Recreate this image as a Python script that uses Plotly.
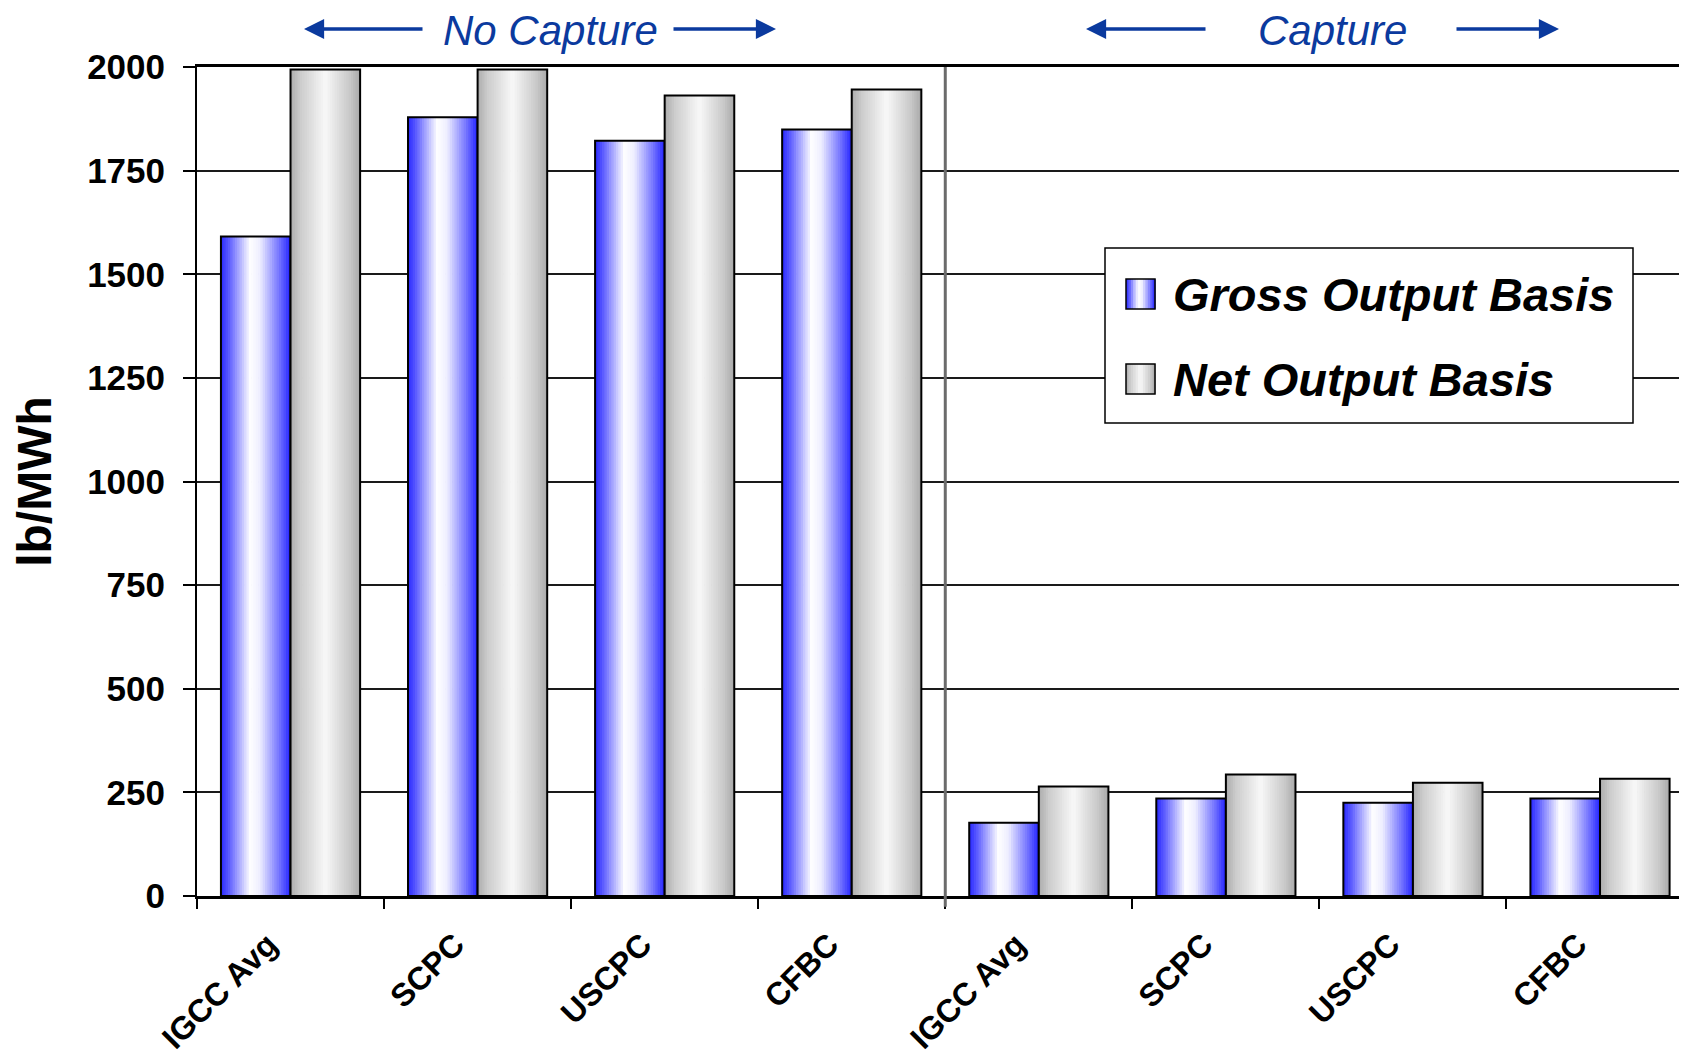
import plotly.graph_objects as go

# ---------------- data ----------------
groups = ["No Capture", "Capture"]
plants = ["IGCC Avg", "SCPC", "USCPC", "CFBC"]
categories = plants + plants
gross_output = [1591, 1879, 1822, 1849, 177, 235, 225, 235]
net_output = [1994, 1994, 1931, 1946, 264, 293, 273, 283]
series_names = ["Gross Output Basis", "Net Output Basis"]
y_ticks = [0, 250, 500, 750, 1000, 1250, 1500, 1750, 2000]
y_title = "lb/MWh"

# ---------------- layout helpers ----------------
OFF = 8  # page body margin
W, H = 1687 - OFF, 1057 - OFF
L, R, T, B = 197 - OFF, 0, 67 - OFF, 161
PW, PH = W - L - R, H - T - B


def px2x(px):  # px in reference-image pixels
    return (px - OFF - L) / PW


def py2y(py):
    return (H - B - (py - OFF)) / PH


FONT = "Liberation Sans, Arial, sans-serif"
BLUE_TXT = "#0b3a9e"

blue_stops = [(0.0, (40, 40, 255)), (0.12, (95, 95, 255)), (0.42, (255, 255, 255)),
              (0.56, (238, 238, 255)), (0.85, (110, 110, 255)), (1.0, (35, 35, 255))]
gray_stops = [(0.0, (172, 172, 172)), (0.15, (205, 205, 205)), (0.5, (248, 248, 248)),
              (0.85, (200, 200, 200)), (1.0, (168, 168, 168))]


def interp(stops, t):
    for (t0, c0), (t1, c1) in zip(stops[:-1], stops[1:]):
        if t0 <= t <= t1:
            f = (t - t0) / (t1 - t0) if t1 > t0 else 0
            c = [round(a + (b - a) * f) for a, b in zip(c0, c1)]
            return "rgb({},{},{})".format(*c)
    c = stops[-1][1]
    return "rgb({},{},{})".format(*c)


fig = go.Figure()
xs = list(range(len(categories)))
BAR_W = 0.372
N = 30

for s_idx, (vals, stops, name) in enumerate(
        [(gross_output, blue_stops, series_names[0]), (net_output, gray_stops, series_names[1])]):
    base = -BAR_W if s_idx == 0 else 0.0
    sw = BAR_W / N
    for k in range(N):
        t = (k + 0.5) / N
        fig.add_bar(x=xs, y=vals, width=sw * (1.35 if k < N - 1 else 1.0), offset=base + k * sw,
                    marker=dict(color=interp(stops, t), line=dict(width=0)),
                    showlegend=False, hoverinfo="skip")
    fig.add_bar(x=xs, y=vals, width=BAR_W, offset=base, name=name,
                marker=dict(color="rgba(0,0,0,0)", line=dict(color="black", width=2)),
                showlegend=False, customdata=categories,
                hovertemplate="%{customdata}: %{y}<extra>" + name + "</extra>")

shapes = []
# separator between No Capture / Capture
shapes.append(dict(type="line", xref="x", yref="paper", x0=3.5, x1=3.5, y0=-0.013, y1=1,
                   line=dict(color="#6b6b6b", width=3), layer="above"))

# custom legend box
lx0, ly0, lx1, ly1 = 1105, 248, 1633, 423
shapes.append(dict(type="rect", xref="paper", yref="paper", x0=px2x(lx0), x1=px2x(lx1),
                   y0=py2y(ly1), y1=py2y(ly0), fillcolor="white",
                   line=dict(color="black", width=1.5), layer="above"))
annotations = []
for name, stops, cy in [(series_names[0], blue_stops, 294), (series_names[1], gray_stops, 379)]:
    sx0, sx1 = 1126, 1155
    sy0, sy1 = cy - 15, cy + 15
    M = 12
    for k in range(M):
        a = sx0 + (sx1 - sx0) * k / M
        b = sx0 + (sx1 - sx0) * (k + 1) / M
        shapes.append(dict(type="rect", xref="paper", yref="paper", x0=px2x(a), x1=px2x(b + 0.6),
                           y0=py2y(sy1), y1=py2y(sy0), fillcolor=interp(stops, (k + 0.5) / M),
                           line=dict(width=0), layer="above"))
    shapes.append(dict(type="rect", xref="paper", yref="paper", x0=px2x(sx0), x1=px2x(sx1),
                       y0=py2y(sy1), y1=py2y(sy0), fillcolor="rgba(0,0,0,0)",
                       line=dict(color="black", width=1.5), layer="above"))
    annotations.append(dict(text=name, xref="paper", yref="paper", x=px2x(1171), y=py2y(cy),
                            xanchor="left", yanchor="middle", showarrow=False,
                            font=dict(family=FONT, size=47, color="black", weight="bold",
                                      style="italic")))

# group headers with arrows
for label, cx, arrows in [
        (groups[0], 550, [(424, 304), (672, 776)]),
        (groups[1], 1332, [(1207, 1086), (1455, 1559)])]:
    annotations.append(dict(text=label, xref="paper", yref="paper", x=px2x(cx), y=py2y(31),
                            xanchor="center", yanchor="middle", showarrow=False,
                            font=dict(family=FONT, size=42, color=BLUE_TXT, style="italic")))
    for tail, tip in arrows:
        annotations.append(dict(text="", xref="paper", yref="paper", x=px2x(tip), y=py2y(29),
                                ax=tail - tip, ay=0, axref="pixel", ayref="pixel",
                                showarrow=True, arrowhead=2, arrowsize=1.15, arrowwidth=3.5,
                                arrowcolor=BLUE_TXT, standoff=0, startstandoff=0))

fig.update_layout(
    width=W, height=H,
    margin=dict(l=L, r=R, t=T, b=B, pad=0),
    paper_bgcolor="white", plot_bgcolor="white",
    barmode="overlay",
    showlegend=False,
    shapes=shapes,
    annotations=annotations,
    xaxis=dict(
        range=[-0.5, 7.465], tickmode="array", tickvals=[i - 0.12 for i in xs],
        ticktext=categories,
        tickangle=-45, ticks="", showgrid=False, zeroline=False,
        showline=True, linecolor="black", linewidth=3, mirror=True,
        tickfont=dict(family=FONT, size=32, color="black", weight="bold"),
        ticklabelstandoff=14, automargin=False,
        minor=dict(tickmode="linear", tick0=-0.5, dtick=1, ticks="outside", ticklen=10,
                   tickwidth=2, tickcolor="black", showgrid=False),
    ),
    yaxis=dict(
        range=[0, 2000], tickmode="array", tickvals=y_ticks,
        ticks="outside", ticklen=12, tickwidth=2, tickcolor="black",
        showline=True, linecolor="black", linewidth=2,
        showgrid=True, gridcolor="#1a1a1a", gridwidth=1.5, zeroline=False,
        tickfont=dict(family=FONT, size=35, color="black", weight="bold"),
        ticklabelstandoff=11, automargin=False,
        title=dict(text=y_title, standoff=24,
                   font=dict(family=FONT, size=48, color="black", weight="bold")),
    ),
)

fig.write_html("out.html")
